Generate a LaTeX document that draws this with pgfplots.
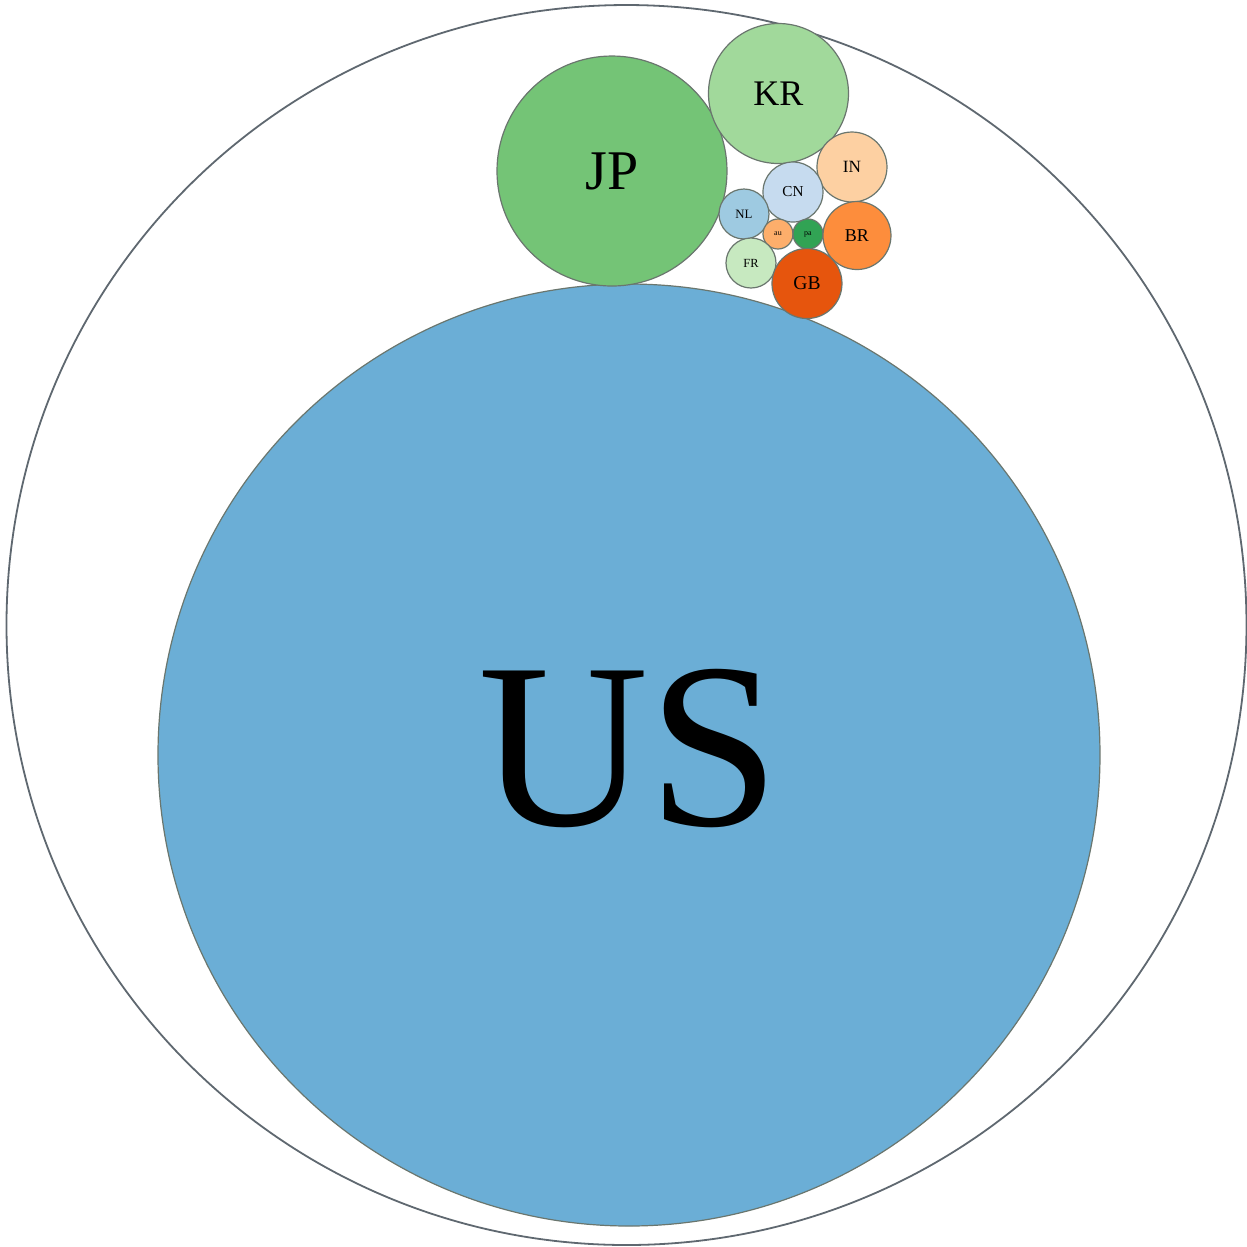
\documentclass[border=0pt]{standalone}
\usepackage{pgfplots}
\pgfplotsset{compat=1.18}
\usepackage{fontspec}
\setmainfont{Liberation Serif}
\definecolor{cUS}{HTML}{6BAED6}
\definecolor{cJP}{HTML}{74C476}
\definecolor{cKR}{HTML}{A1D99B}
\definecolor{cIN}{HTML}{FDD0A2}
\definecolor{cCN}{HTML}{C6DBEF}
\definecolor{cNL}{HTML}{9ECAE1}
\definecolor{cAU}{HTML}{FDAE6B}
\definecolor{cPA}{HTML}{31A354}
\definecolor{cBR}{HTML}{FD8D3C}
\definecolor{cFR}{HTML}{C7E9C0}
\definecolor{cGB}{HTML}{E6550D}
\definecolor{edge}{HTML}{6A766E}
\definecolor{outer}{HTML}{5F6870}
% #1 x, #2 y, #3 radius (px), #4 fill, #5 label, #6 font size (pt), #7 label yshift
\newcommand{\bubble}[7]{%
  \addplot[only marks, mark=*, mark size={#3*0.25pt},
    mark options={fill=#4, draw=edge, line width=0.3pt},
    point meta=explicit symbolic, nodes near coords,
    nodes near coords style={anchor=center, text=black, inner sep=0pt,
      yshift=#7, font=\fontsize{#6}{#6}\selectfont}]
    coordinates {(#1,#2) [#5]};}
\begin{document}
\begin{tikzpicture}
\begin{axis}[width=311.75pt, height=311.75pt, scale only axis,
  xmin=0, xmax=1247, ymin=0, ymax=1247, y dir=reverse,
  hide axis, clip=false]
\addplot[draw=none, mark=none] coordinates {(0,0) (1247,1247)};
\addplot[only marks, mark=*, mark size={620*0.25pt},
  mark options={fill=white, draw=outer, line width=0.45pt}]
  coordinates {(626.5,625)};
\bubble{629}{755}{471}{cUS}{US}{59}{1.6pt}
\bubble{612}{171}{115}{cJP}{JP}{14}{0pt}
\bubble{778.5}{93.5}{70}{cKR}{KR}{9}{0pt}
\bubble{852}{167}{35}{cIN}{IN}{4.3}{0pt}
\bubble{793}{192}{30}{cCN}{CN}{3.8}{0pt}
\bubble{744}{214}{25}{cNL}{NL}{3.2}{0pt}
\bubble{778}{234}{15}{cAU}{au}{2}{0pt}
\bubble{808}{234}{15}{cPA}{pa}{2}{0pt}
\bubble{857}{235.5}{34}{cBR}{BR}{4.5}{0pt}
\bubble{751}{263}{25}{cFR}{FR}{3.1}{0pt}
\bubble{807}{283.5}{35}{cGB}{GB}{4.9}{0pt}
\end{axis}
\end{tikzpicture}
\end{document}
